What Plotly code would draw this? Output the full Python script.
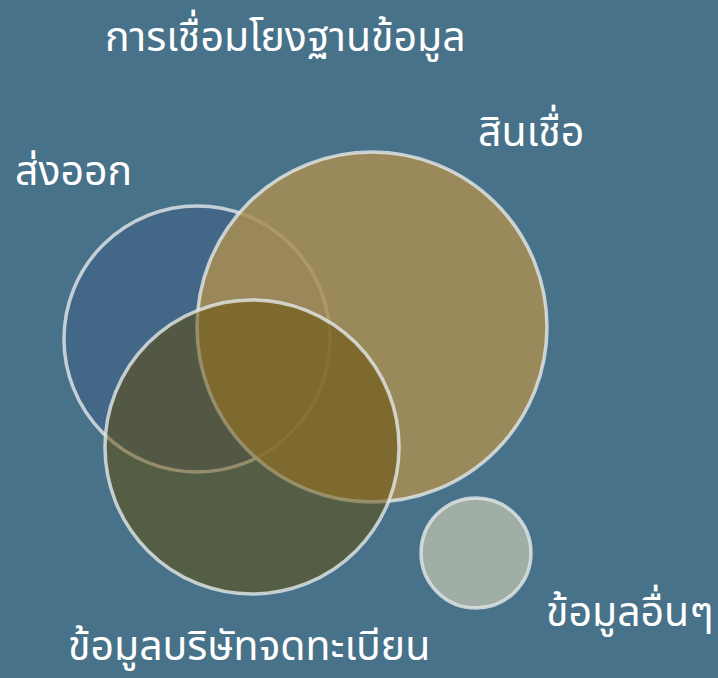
import plotly.graph_objects as go

# Data: sets in the data-linkage diagram
categories = ["ส่งออก", "สินเชื่อ", "ข้อมูลบริษัทจดทะเบียน", "ข้อมูลอื่นๆ"]
set_sizes = [133, 175, 147, 55]  # relative circle radius

title_text = "การเชื่อมโยงฐานข้อมูล"

# Layout (pixel-like data coordinates)
centers_x = [197, 372, 252, 476]
centers_y = [339, 327, 447, 553]
fills = ["rgba(61,92,133,0.5)", "rgba(169,142,84,0.85)", "rgba(97,74,1,0.5)", "rgba(170,181,169,0.9)"]
label_x = [13, 476, 66, 544]
label_y = [172, 133, 647, 613]

W, H = 718, 678
fig = go.Figure()
fig.add_trace(go.Scatter(x=[0, W], y=[0, H], mode="markers", marker=dict(opacity=0), hoverinfo="skip", showlegend=False))

for cx, cy, r, fc in zip(centers_x, centers_y, set_sizes, fills):
    fig.add_shape(type="circle", xref="x", yref="y",
                  x0=cx - r, x1=cx + r, y0=cy - r, y1=cy + r,
                  fillcolor=fc, line=dict(color="rgba(228,232,234,0.8)", width=3.5), layer="above")

font_family = "Noto Sans Thai, Kanit, Prompt, Noto Sans, sans-serif"
for name, lx, ly in zip(categories, label_x, label_y):
    fig.add_annotation(x=lx, y=ly, text=name, showarrow=False, xanchor="left", yanchor="middle",
                       font=dict(family=font_family, size=41, color="white"))

fig.add_annotation(x=103, y=38, text=title_text, showarrow=False, xanchor="left", yanchor="middle",
                   font=dict(family=font_family, size=41, color="white"))

fig.update_layout(
    width=W, height=H, margin=dict(l=0, r=0, t=0, b=0),
    paper_bgcolor="#477289", plot_bgcolor="#477289",
    xaxis=dict(range=[0, W], visible=False, fixedrange=True),
    yaxis=dict(range=[H, 0], visible=False, fixedrange=True),
    showlegend=False,
)
fig.write_html("out.html", config={"displayModeBar": False},
               post_script="document.body.style.margin='0';document.body.style.background='#477289';")
